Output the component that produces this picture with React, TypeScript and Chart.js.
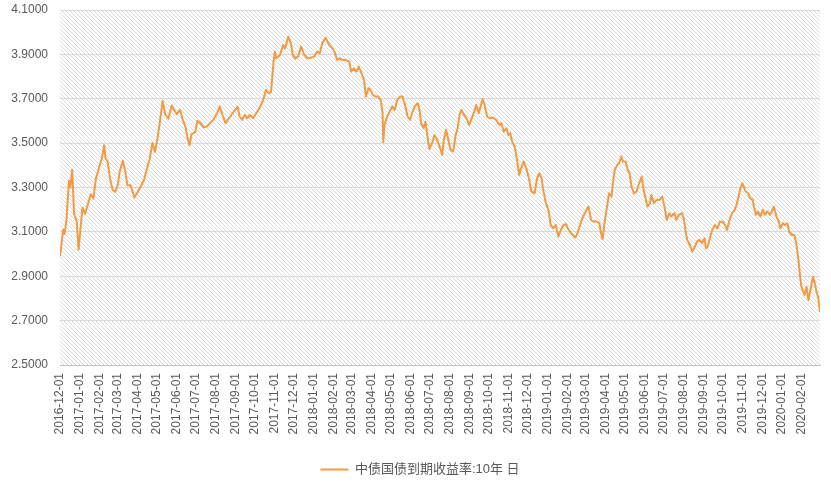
import React, { useEffect, useRef } from "react";
import { Chart, registerables } from "chart.js";

Chart.register(...registerables);

const SERIES_NAME = "中债国债到期收益率:10年 日";

const dates: string[] = [
  "2016-12-01","2016-12-06","2016-12-08","2016-12-11","2016-12-15","2016-12-17","2016-12-20","2016-12-23","2016-12-27","2016-12-30",
  "2017-01-05","2017-01-09","2017-01-13","2017-01-18","2017-01-22","2017-01-26","2017-01-31",
  "2017-02-04","2017-02-08","2017-02-10","2017-02-13","2017-02-17","2017-02-21","2017-02-25",
  "2017-03-01","2017-03-04","2017-03-09","2017-03-13","2017-03-16","2017-03-21","2017-03-27",
  "2017-04-01","2017-04-06","2017-04-11","2017-04-17","2017-04-20","2017-04-24","2017-04-28",
  "2017-05-02","2017-05-06","2017-05-10","2017-05-14","2017-05-19","2017-05-24","2017-05-28",
  "2017-06-01","2017-06-06","2017-06-10","2017-06-15","2017-06-18","2017-06-21","2017-06-24","2017-06-30",
  "2017-07-03","2017-07-08","2017-07-13","2017-07-18","2017-07-23","2017-07-28",
  "2017-08-03","2017-08-07","2017-08-11","2017-08-16","2017-08-21","2017-08-26","2017-08-31",
  "2017-09-04","2017-09-07","2017-09-11","2017-09-15","2017-09-19","2017-09-23","2017-09-28",
  "2017-10-03","2017-10-08","2017-10-14","2017-10-18","2017-10-23","2017-10-26","2017-10-30",
  "2017-11-01","2017-11-03","2017-11-09","2017-11-14","2017-11-17","2017-11-22","2017-11-26","2017-11-29",
  "2017-12-03","2017-12-07","2017-12-12","2017-12-17","2017-12-22","2017-12-27",
  "2018-01-01","2018-01-06","2018-01-10","2018-01-14","2018-01-19","2018-01-25","2018-01-30",
  "2018-02-02","2018-02-06","2018-02-10","2018-02-14","2018-02-19","2018-02-25","2018-02-28",
  "2018-03-04","2018-03-08","2018-03-12","2018-03-16","2018-03-20","2018-03-23","2018-03-27","2018-03-30",
  "2018-04-03","2018-04-07","2018-04-11","2018-04-15","2018-04-18","2018-04-19","2018-04-21","2018-04-25","2018-04-29",
  "2018-05-03","2018-05-07","2018-05-11","2018-05-15","2018-05-19","2018-05-23","2018-05-27","2018-05-31",
  "2018-06-03","2018-06-07","2018-06-12","2018-06-15","2018-06-17","2018-06-21","2018-06-24","2018-06-28","2018-06-30",
  "2018-07-05","2018-07-08","2018-07-12","2018-07-16","2018-07-20","2018-07-22","2018-07-26","2018-07-29",
  "2018-08-02","2018-08-06","2018-08-10","2018-08-13","2018-08-16","2018-08-19","2018-08-23","2018-08-27","2018-08-31",
  "2018-09-03","2018-09-07","2018-09-11","2018-09-15","2018-09-21","2018-09-24","2018-09-28",
  "2018-10-02","2018-10-07","2018-10-12","2018-10-17","2018-10-20","2018-10-24","2018-10-28","2018-10-31",
  "2018-11-03","2018-11-06","2018-11-10","2018-11-14","2018-11-17","2018-11-20","2018-11-24","2018-11-28",
  "2018-12-02","2018-12-06","2018-12-11","2018-12-15","2018-12-18","2018-12-22","2018-12-24","2018-12-28",
  "2019-01-02","2019-01-05","2019-01-09","2019-01-13","2019-01-17","2019-01-20","2019-01-25","2019-01-29",
  "2019-02-01","2019-02-06","2019-02-12","2019-02-15","2019-02-19","2019-02-24",
  "2019-03-02","2019-03-05","2019-03-09","2019-03-12","2019-03-17","2019-03-22","2019-03-24","2019-03-27","2019-03-30",
  "2019-04-03","2019-04-06","2019-04-10","2019-04-12","2019-04-15","2019-04-19","2019-04-22","2019-04-25","2019-04-28",
  "2019-05-02","2019-05-05","2019-05-08","2019-05-11","2019-05-15","2019-05-19","2019-05-23","2019-05-27","2019-05-30",
  "2019-06-02","2019-06-05","2019-06-09","2019-06-11","2019-06-15","2019-06-19","2019-06-24","2019-06-28",
  "2019-07-02","2019-07-05","2019-07-09","2019-07-12","2019-07-17","2019-07-20","2019-07-24","2019-07-29",
  "2019-08-01","2019-08-04","2019-08-06","2019-08-10","2019-08-14","2019-08-18","2019-08-21","2019-08-25","2019-08-29",
  "2019-09-02","2019-09-04","2019-09-07","2019-09-11","2019-09-14","2019-09-18","2019-09-22","2019-09-26","2019-09-30",
  "2019-10-04","2019-10-07","2019-10-11","2019-10-15","2019-10-19","2019-10-22","2019-10-25","2019-10-28","2019-10-31",
  "2019-11-03","2019-11-05","2019-11-09","2019-11-12","2019-11-16","2019-11-18","2019-11-21","2019-11-24","2019-11-28",
  "2019-12-02","2019-12-05","2019-12-09","2019-12-13","2019-12-16","2019-12-19","2019-12-23","2019-12-27","2019-12-29",
  "2020-01-02","2020-01-05","2020-01-09","2020-01-12","2020-01-16","2020-01-20","2020-01-23","2020-01-27","2020-01-29","2020-01-31",
  "2020-02-03","2020-02-05","2020-02-08","2020-02-11","2020-02-14","2020-02-18","2020-02-21","2020-02-24","2020-02-26","2020-02-29"
];

const yields: number[] = [
  2.99,3.11,3.09,3.15,3.33,3.30,3.38,3.18,3.15,3.02,
  3.21,3.18,3.22,3.27,3.25,3.34,3.39,
  3.43,3.49,3.43,3.42,3.34,3.29,3.28,
  3.31,3.37,3.42,3.37,3.31,3.31,3.255,
  3.28,3.305,3.335,3.40,3.43,3.50,3.46,
  3.52,3.60,3.69,3.63,3.61,3.67,3.65,
  3.63,3.65,3.61,3.57,3.52,3.49,3.54,3.55,
  3.60,3.59,3.57,3.575,3.59,3.605,
  3.635,3.665,3.63,3.59,3.61,3.63,3.65,
  3.665,3.62,3.605,3.627,3.612,3.627,3.612,
  3.635,3.657,3.695,3.74,3.725,3.73,3.867,
  3.912,3.882,3.897,3.942,3.927,3.98,3.95,3.897,
  3.882,3.89,3.935,3.897,3.882,3.885,
  3.89,3.912,3.905,3.95,3.975,3.942,3.927,
  3.912,3.875,3.882,3.875,3.875,3.867,3.822,
  3.837,3.822,3.845,3.815,3.785,3.71,3.747,3.74,
  3.717,3.71,3.71,3.695,3.635,3.504,3.582,3.62,3.642,
  3.665,3.65,3.695,3.71,3.71,3.672,3.62,3.605,
  3.635,3.665,3.68,3.642,3.59,3.567,3.597,3.507,3.474,
  3.507,3.537,3.515,3.484,3.447,3.507,3.56,3.522,
  3.469,3.462,3.537,3.567,3.627,3.65,3.627,3.612,3.582,
  3.605,3.635,3.672,3.635,3.70,3.672,3.62,
  3.612,3.615,3.605,3.582,3.59,3.552,3.567,3.537,
  3.545,3.507,3.484,3.417,3.357,3.387,3.417,3.387,
  3.342,3.282,3.274,3.342,3.364,3.342,3.297,3.237,
  3.192,3.132,3.117,3.132,3.079,3.102,3.132,3.135,
  3.114,3.094,3.075,3.087,3.124,3.165,
  3.199,3.214,3.154,3.147,3.147,3.139,3.101,3.067,3.139,
  3.214,3.274,3.259,3.319,3.38,3.402,3.41,3.44,3.417,
  3.417,3.38,3.365,3.304,3.274,3.282,3.319,3.349,3.289,
  3.252,3.214,3.229,3.267,3.229,3.244,3.244,3.259,
  3.207,3.154,3.184,3.169,3.184,3.154,3.177,3.184,
  3.154,3.094,3.064,3.041,3.011,3.034,3.056,3.064,3.049,
  3.071,3.026,3.034,3.079,3.109,3.131,3.116,3.146,3.146,
  3.131,3.109,3.154,3.184,3.199,3.222,3.259,3.297,3.319,
  3.297,3.282,3.274,3.252,3.244,3.214,3.177,3.192,3.169,
  3.199,3.177,3.192,3.177,3.192,3.214,3.169,3.146,3.116,
  3.139,3.131,3.139,3.101,3.086,3.086,3.049,2.959,2.898,2.853,
  2.83,2.816,2.853,2.793,2.838,2.898,2.868,2.823,2.808,2.74
];

const monthTickLabels: string[] = [
  "2016-12-01",
  "2017-01-01","2017-02-01","2017-03-01","2017-04-01","2017-05-01","2017-06-01",
  "2017-07-01","2017-08-01","2017-09-01","2017-10-01","2017-11-01","2017-12-01",
  "2018-01-01","2018-02-01","2018-03-01","2018-04-01","2018-05-01","2018-06-01",
  "2018-07-01","2018-08-01","2018-09-01","2018-10-01","2018-11-01","2018-12-01",
  "2019-01-01","2019-02-01","2019-03-01","2019-04-01","2019-05-01","2019-06-01",
  "2019-07-01","2019-08-01","2019-09-01","2019-10-01","2019-11-01","2019-12-01",
  "2020-01-01","2020-02-01"
];

const Y_MIN = 2.5;
const Y_MAX = 4.1;
const Y_STEP = 0.2;

const dayNum = (s: string) => {
  const [y, m, d] = s.split("-").map(Number);
  return Math.round(Date.UTC(y, m - 1, d) / 86400000);
};

const hatchPlugin = {
  id: "hatchBackground",
  afterLayout(chart: any) {
    const l = chart.legend;
    if (l) {
      l.left += 10;
      l.right += 10;
    }
  },
  beforeDraw(chart: any) {
    const { ctx, chartArea: a } = chart;
    if (!a) return;
    ctx.save();
    ctx.fillStyle = "#ffffff";
    ctx.fillRect(0, 0, chart.width, chart.height);
    ctx.beginPath();
    ctx.rect(a.left, a.top, a.right - a.left, a.bottom - a.top);
    ctx.clip();
    ctx.strokeStyle = "#d9d9d9";
    ctx.lineWidth = 1;
    const h = a.bottom - a.top;
    ctx.beginPath();
    for (let x = a.left - h; x < a.right + 4; x += 4) {
      ctx.moveTo(x, a.top);
      ctx.lineTo(x + h, a.bottom);
    }
    ctx.stroke();
    ctx.restore();
  },
};

export default function App() {
  const ref = useRef<HTMLCanvasElement>(null);

  useEffect(() => {
    if (!ref.current) return;
    const origin = dayNum(dates[0]);
    const points = dates.map((d, i) => ({ x: dayNum(d) - origin, y: yields[i] }));
    const tickValues = monthTickLabels.map((l) => dayNum(l) - origin);
    const lastX = dayNum(dates[dates.length - 1]) - origin;
    const font = "'Liberation Sans', Arial, 'Noto Sans CJK SC', sans-serif";

    const chart = new Chart(ref.current, {
      type: "line",
      data: {
        datasets: [
          {
            label: SERIES_NAME,
            data: points,
            borderColor: "#F39A45",
            backgroundColor: "#F39A45",
            borderWidth: 2,
            pointRadius: 0,
            pointHoverRadius: 0,
            tension: 0,
            fill: false,
            borderJoinStyle: "round",
          },
        ],
      },
      options: {
        responsive: false,
        animation: false,
        layout: { padding: { top: 10, right: 11, left: 0, bottom: -3 } },
        font: { family: font },
        plugins: {
          tooltip: { enabled: false },
          legend: {
            position: "bottom",
            labels: {
              usePointStyle: true,
              pointStyle: "line",
              pointStyleWidth: 28,
              color: "#595959",
              padding: 8,
              font: { size: 13, family: font },
            },
          },
        },
        scales: {
          x: {
            type: "linear",
            min: 0,
            max: lastX,
            grid: { display: false, drawTicks: false },
            border: { display: true, color: "#bfbfbf", width: 1 },
            afterBuildTicks: (scale: any) => {
              scale.ticks = tickValues.map((v) => ({ value: v }));
            },
            afterFit: (scale: any) => {
              scale.height = 90;
            },
            ticks: {
              autoSkip: false,
              maxRotation: 90,
              minRotation: 90,
              padding: 8,
              color: "#595959",
              font: { size: 12, family: font },
              callback: (_v: any, i: number) => monthTickLabels[i],
            },
          },
          y: {
            min: Y_MIN,
            max: Y_MAX,
            grid: { color: "#d9d9d9", drawTicks: false },
            border: { display: false },
            afterFit: (scale: any) => {
              scale.width = 60;
              scale.paddingTop = 0;
              scale.paddingBottom = 0;
            },
            ticks: {
              stepSize: Y_STEP,
              padding: 12,
              color: "#595959",
              font: { size: 12, family: font },
              callback: (v: any) => Number(v).toFixed(4),
            },
          },
        },
      },
      plugins: [hatchPlugin],
    } as any);

    return () => chart.destroy();
  }, []);

  return (
    <div style={{ position: "absolute", left: 0, top: 0, width: 831, height: 483, background: "#fff" }}>
      <canvas ref={ref} width={831} height={483} style={{ display: "block" }} />
    </div>
  );
}
